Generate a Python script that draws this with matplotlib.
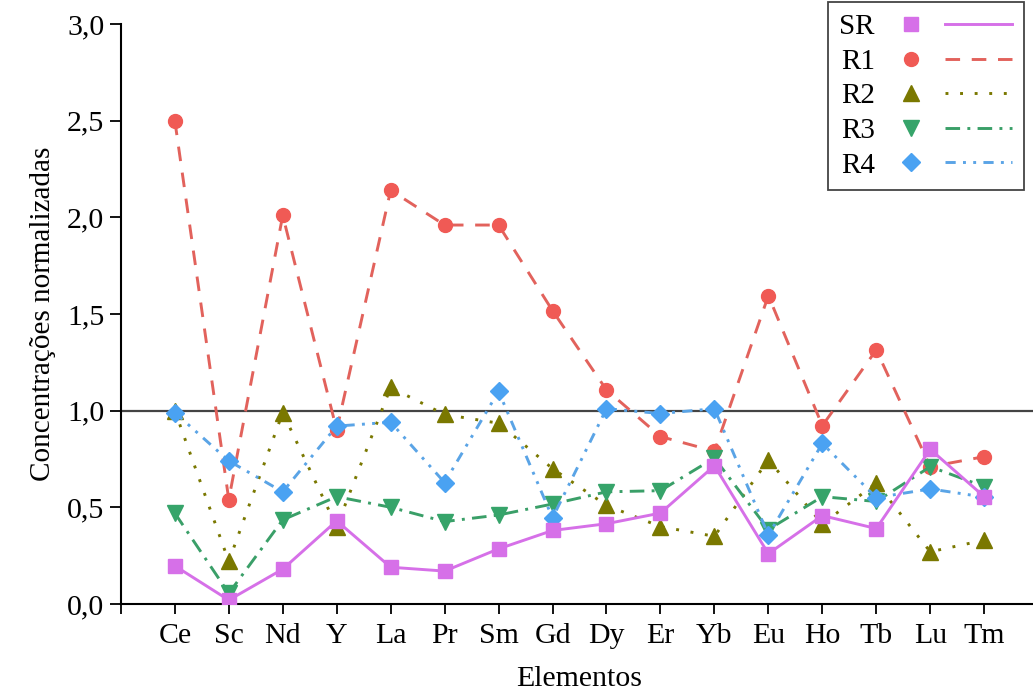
import matplotlib
matplotlib.use("Agg")
from matplotlib import pyplot as plt
from matplotlib.lines import Line2D
from matplotlib.legend_handler import HandlerTuple
import numpy as np

elementos = ["Ce", "Sc", "Nd", "Y", "La", "Pr", "Sm", "Gd", "Dy", "Er",
             "Yb", "Eu", "Ho", "Tb", "Lu", "Tm"]
sr = [0.197, 0.02, 0.18, 0.43, 0.19, 0.17, 0.285, 0.38, 0.415, 0.47,
      0.715, 0.26, 0.457, 0.39, 0.80, 0.555]
r1 = [2.50, 0.54, 2.01, 0.90, 2.14, 1.96, 1.96, 1.517, 1.107, 0.866,
      0.79, 1.595, 0.922, 1.314, 0.71, 0.762]
r2 = [1.00, 0.22, 0.99, 0.40, 1.12, 0.98, 0.935, 0.70, 0.51, 0.40,
      0.35, 0.745, 0.414, 0.625, 0.27, 0.33]
r3 = [0.47, 0.055, 0.435, 0.555, 0.50, 0.426, 0.46, 0.517, 0.58, 0.586,
      0.755, 0.385, 0.555, 0.53, 0.71, 0.607]
r4 = [0.99, 0.74, 0.58, 0.92, 0.94, 0.628, 1.10, 0.445, 1.01, 0.985,
      1.01, 0.357, 0.83, 0.55, 0.595, 0.553]
yticks = [0.0, 0.5, 1.0, 1.5, 2.0, 2.5, 3.0]
ylabels = ["0,0", "0,5", "1,0", "1,5", "2,0", "2,5", "3,0"]

plt.rcParams['font.family'] = ['Liberation Serif', 'DejaVu Serif']
fs = 21.5

fig = plt.figure(figsize=(10.33, 6.95), dpi=100)
ax = fig.add_axes([0.117, 0.131, 0.888, 0.8345])
x = np.arange(len(elementos))

series = [
    ("SR", sr, "#d670e8", "#d670e8", "s", "-", 10),
    ("R1", r1, "#f05a55", "#e2625c", "o", (0, (5, 4)), 10),
    ("R2", r2, "#7a7800", "#7a7800", "^", (0, (1, 4)), 11),
    ("R3", r3, "#36a46a", "#3a9f68", "v", (0, (5, 2.5, 1, 2.5)), 11),
    ("R4", r4, "#4aa2f2", "#5aa4e6", "D", (0, (3.5, 2.5, 1, 2.5, 1, 2.5)), 9),
]
zs = [6, 2, 3, 4, 5]

ax.axhline(1.0, color="#444444", lw=1.6, zorder=1)

handles = []
labels = []
for (name, vals, mc, lc, mk, ls, ms), z in zip(series, zs):
    ax.plot(x, vals, color=lc, ls=ls, lw=2.1, zorder=z)
    ax.plot(x, vals, ls="none", marker=mk, ms=ms, color=mc, zorder=z + 0.5)
    hm = Line2D([], [], ls="none", marker=mk, ms=ms, color=mc)
    hl = Line2D([], [], ls=ls, lw=2.1, color=lc)
    handles.append((hm, hl))
    labels.append(name)

ax.set_xlim(-1, 16)
ax.set_ylim(0, 3.0)
ax.set_xticks(np.arange(-1, 16))
ax.set_xticklabels([""] + elementos, fontsize=fs)
ax.set_yticks(yticks)
ax.set_yticklabels(ylabels, fontsize=fs)
ax.tick_params(axis="x", direction="out", length=7, width=1.3, pad=7)
ax.tick_params(axis="y", direction="out", length=8, width=1.3, pad=4)
for s in ["top", "right"]:
    ax.spines[s].set_visible(False)
for s in ["left", "bottom"]:
    ax.spines[s].set_linewidth(1.5)
ax.set_xlabel("Elementos", fontsize=fs, labelpad=12)
ax.set_ylabel("Concentrações normalizadas", fontsize=21, labelpad=8)

leg = fig.legend(handles, labels, loc="upper right",
                 bbox_to_anchor=(0.991, 0.997), bbox_transform=fig.transFigure,
                 handler_map={tuple: HandlerTuple(ndivide=None, pad=0.0)},
                 markerfirst=False, fontsize=21, handlelength=4.6,
                 labelspacing=0.28, handletextpad=0.1, borderpad=0.4,
                 borderaxespad=0.0, fancybox=False, framealpha=1)
leg.get_frame().set_edgecolor("#444444")
leg.get_frame().set_linewidth(1.3)
for t in leg.get_texts():
    t.set_ha("left")

fig.savefig("out.png", dpi=100)
